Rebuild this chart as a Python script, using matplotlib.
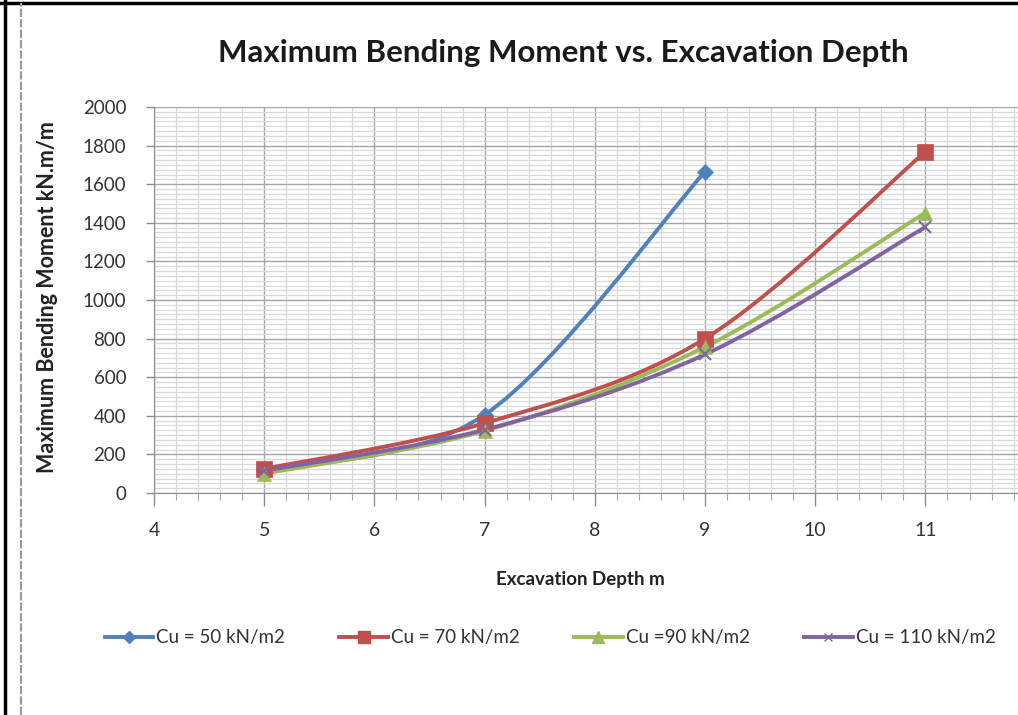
import numpy as np
import matplotlib
matplotlib.use("Agg")
import matplotlib.pyplot as plt
from matplotlib.path import Path
from matplotlib.patches import PathPatch
from matplotlib.lines import Line2D
from matplotlib.ticker import MultipleLocator

# --------------------------
# Data
# --------------------------
depth_50 = [5, 7, 9]
moment_50 = [120, 405, 1665]
depth_70 = [5, 7, 9, 11]
moment_70 = [125, 362, 800, 1768]
depth_90 = [5, 7, 9, 11]
moment_90 = [100, 322, 757, 1452]
depth_110 = [5, 7, 9, 11]
moment_110 = [115, 328, 718, 1378]

labels = ["Cu = 50 kN/m2", "Cu = 70 kN/m2", "Cu =90 kN/m2", "Cu = 110 kN/m2"]
colors = ["#4F81BD", "#C0504D", "#9BBB59", "#8064A2"]
markers = ["D", "s", "^", "x"]
marker_sizes = [8, 11, 10, 8]

plt.rcParams['font.family'] = ['Lato', 'DejaVu Sans']


def smooth_path(xs, ys):
    # Excel-like smoothed line: cubic Bezier through the points
    pts = np.column_stack([xs, ys]).astype(float)
    n = len(pts)
    verts = [pts[0]]
    codes = [Path.MOVETO]
    for i in range(n - 1):
        p_prev = pts[i - 1] if i > 0 else pts[i]
        p_next2 = pts[i + 2] if i + 2 < n else pts[i + 1]
        c1 = pts[i] + (pts[i + 1] - p_prev) / 6.0
        c2 = pts[i + 1] - (p_next2 - pts[i]) / 6.0
        verts += [c1, c2, pts[i + 1]]
        codes += [Path.CURVE4] * 3
    return Path(verts, codes)


fig = plt.figure(figsize=(10.18, 7.15), dpi=100)
ax = fig.add_axes([154 / 1018, 1 - 493 / 715, 1 - 154 / 1018, (493 - 107) / 715])

series = [(depth_50, moment_50), (depth_70, moment_70),
          (depth_90, moment_90), (depth_110, moment_110)]
handles = []
for (xs, ys), lab, col, mk, ms in zip(series, labels, colors, markers, marker_sizes):
    ax.add_patch(PathPatch(smooth_path(xs, ys), facecolor="none",
                           edgecolor=col, lw=2.8, zorder=3))
    ax.plot(xs, ys, linestyle="none", marker=mk, color=col, markersize=ms,
            markeredgewidth=1.5 if mk == "x" else 0.5, zorder=4)
    handles.append(Line2D([], [], color=col, lw=2.8, marker=mk,
                          markersize=ms * 0.8, label=lab))

ax.set_xlim(4, 11.84)
ax.set_ylim(0, 2000)
ax.xaxis.set_major_locator(MultipleLocator(1))
ax.xaxis.set_minor_locator(MultipleLocator(0.2))
ax.yaxis.set_major_locator(MultipleLocator(200))
ax.yaxis.set_minor_locator(MultipleLocator(25))
ax.grid(which="major", color="#a6a6a6", lw=1.0)
ax.grid(which="minor", color="#d9d9d9", lw=0.9)
ax.set_axisbelow(True)

for side in ["top", "right"]:
    ax.spines[side].set_visible(False)
ax.spines["left"].set_color("#8c8c8c")
ax.spines["bottom"].set_color("#8c8c8c")
ax.tick_params(axis="x", which="major", length=9, width=1, color="#8c8c8c",
               pad=12, labelsize=14, labelcolor="#333333")
ax.tick_params(axis="x", which="minor", length=5, width=0.8, color="#a6a6a6")
ax.tick_params(axis="y", which="major", length=6, width=1, color="#8c8c8c",
               pad=14, labelsize=13.5, labelcolor="#333333")
ax.tick_params(axis="y", which="minor", length=0)

ax.set_xlabel("Excavation Depth m", fontsize=13.5, fontweight="bold",
              color="#222222")
ax.xaxis.set_label_coords((580 - 154) / (1018 - 154), -(580 - 493) / 386,
                          transform=ax.transAxes)
ax.xaxis.label.set_va("center")
ax.set_ylabel("Maximum Bending Moment kN.m/m", fontsize=15.5,
              fontweight="bold", color="#222222")
ax.yaxis.set_label_coords(-(154 - 48) / (1018 - 154), (493 - 297) / 386)
ax.yaxis.label.set_va("center")

fig.text(563 / 1018, 1 - 53 / 715, "Maximum Bending Moment vs. Excavation Depth",
         ha="center", va="center", fontsize=22.5, fontweight="bold",
         color="#1a1a1a")

fig.legend(handles=handles, loc="center", bbox_to_anchor=(550 / 1018, 1 - 638 / 715),
           ncol=4, frameon=False, fontsize=13.5, handlelength=2.6,
           columnspacing=2.9, handletextpad=0.15, labelcolor="#333333")

# page border lines
fig.add_artist(Line2D([5 / 1018, 5 / 1018], [0, 1], color="black", lw=2.5,
                      transform=fig.transFigure))
fig.add_artist(Line2D([0, 1], [1 - 3 / 715, 1 - 3 / 715], color="black", lw=2.5,
                      transform=fig.transFigure))
fig.add_artist(Line2D([21 / 1018, 21 / 1018], [0, 1 - 3 / 715], color="#999999",
                      lw=1.5, linestyle=(0, (4, 1)), transform=fig.transFigure))

fig.savefig("out.png", dpi=100)
